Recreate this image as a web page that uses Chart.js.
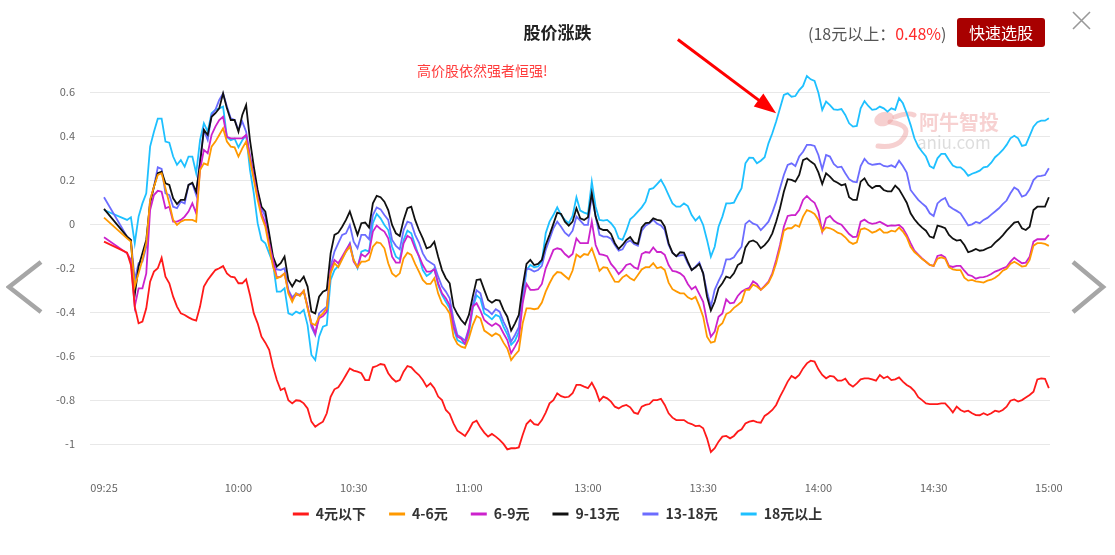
<!DOCTYPE html>
<html lang="zh">
<head>
<meta charset="utf-8">
<title>股价涨跌</title>
<script src="https://cdn.jsdelivr.net/npm/chart.js@4.4.1/dist/chart.umd.min.js"></script>
<style>
    html, body { margin: 0; padding: 0; background: #fff; }
    body { position: relative; width: 1115px; height: 555px; overflow: hidden;
           font-family: "Noto Sans CJK SC", "Noto Sans", sans-serif; }
    #stockChart { position: absolute; left: 0; top: 0; }
    .title { position: absolute; left: 0; top: 20px; width: 1115px; text-align: center;
             font-size: 17px; font-weight: bold; color: #222; line-height: 24px; }
    .summary { position: absolute; left: 808px; top: 21px; font-size: 16px; color: #555; line-height: 24px; }
    .summary em { font-style: normal; color: #ff2a2a; }
    .pick { position: absolute; left: 957px; top: 18px; width: 88px; height: 29px; border-radius: 3px;
            background: #a80000; color: #fff; font-size: 16px; line-height: 29px; text-align: center; }
    .close { position: absolute; left: 1072px; top: 11px; }
    .note { position: absolute; left: 417px; top: 60px; font-size: 14px; color: #ff3b3b; line-height: 20px; }
    .nav { position: absolute; top: 259px; }
</style>
</head>
<body>
<canvas id="stockChart" width="1115" height="555"></canvas>
<div class="title">股价涨跌</div>
<div class="summary">(18元以上：<em>0.48%</em>)</div>
<div class="pick">快速选股</div>
<svg class="close" width="20" height="20"><path d="M1 1 L18 18 M18 1 L1 18" stroke="#999" stroke-width="1.6" fill="none"/></svg>
<div class="note">高价股依然强者恒强!</div>
<svg class="nav" style="left:6px" width="40" height="56"><polyline points="35,3 3,28 35,53" fill="none" stroke="#a6a6a6" stroke-width="4.5"/></svg>
<svg class="nav" style="left:1068px" width="40" height="56"><polyline points="5,3 35,28 5,53" fill="none" stroke="#a6a6a6" stroke-width="4.5"/></svg>

<script>
const FONT = '"Noto Sans CJK SC", "Noto Sans", sans-serif';

// minutes after 09:25 (09:25, then 09:31 ... 11:30, 13:00 ... 15:00)
const minutes = [0];
for (let m = 6; m <= 246; m++) minutes.push(m);

const tickMinutes = [0, 35, 65, 95, 126, 156, 186, 216, 246];
const tickLabels = ["09:25", "10:00", "10:30", "11:00", "13:00", "13:30", "14:00", "14:30", "15:00"];
const yTicks = [0.6, 0.4, 0.2, 0, -0.2, -0.4, -0.6, -0.8, -1];

const names = ["4元以下", "4-6元", "6-9元", "9-13元", "13-18元", "18元以上"];
const colors = ["#ff1a1a", "#ff9900", "#cc22cc", "#111111", "#6c6cff", "#1ec0ff"];

const under4 = [-0.079,
    -0.129, -0.185, -0.374, -0.45, -0.442, -0.382, -0.261, -0.215, -0.2, -0.152,
    -0.238, -0.268, -0.329, -0.374, -0.405, -0.412, -0.423, -0.432, -0.438, -0.374,
    -0.283, -0.253, -0.23, -0.208, -0.2, -0.19, -0.223, -0.238, -0.241, -0.268,
    -0.268, -0.25, -0.321, -0.405, -0.45, -0.511, -0.538, -0.571, -0.647, -0.708,
    -0.753, -0.745, -0.8, -0.814, -0.8, -0.802, -0.814, -0.837, -0.897, -0.92,
    -0.908, -0.897, -0.859, -0.784, -0.75, -0.741, -0.715, -0.685, -0.655, -0.665,
    -0.67, -0.677, -0.708, -0.708, -0.65, -0.644, -0.635, -0.639, -0.677, -0.7,
    -0.715, -0.708, -0.67, -0.644, -0.65, -0.67, -0.685, -0.708, -0.738, -0.723,
    -0.745, -0.783, -0.799, -0.844, -0.862, -0.905, -0.938, -0.95, -0.962, -0.935,
    -0.902, -0.893, -0.923, -0.947, -0.965, -0.953, -0.965, -0.98, -0.998, -1.023,
    -1.018, -1.018, -1.014, -0.958, -0.908, -0.89, -0.908, -0.912, -0.89, -0.856,
    -0.814, -0.799, -0.768, -0.781, -0.787, -0.784, -0.768, -0.73, -0.73, -0.738,
    -0.745, -0.72, -0.753, -0.802, -0.783, -0.791, -0.806, -0.829, -0.837, -0.826,
    -0.821, -0.832, -0.856, -0.862, -0.829, -0.821, -0.817, -0.799, -0.799, -0.793,
    -0.821, -0.859, -0.879, -0.89, -0.89, -0.89, -0.902, -0.908, -0.917, -0.915,
    -0.927, -0.973, -1.035, -1.018, -0.988, -0.965, -0.962, -0.973, -0.962, -0.942,
    -0.932, -0.905, -0.897, -0.893, -0.899, -0.902, -0.871, -0.859, -0.844, -0.821,
    -0.783, -0.75, -0.715, -0.689, -0.7, -0.685, -0.655, -0.632, -0.62, -0.624,
    -0.659, -0.685, -0.7, -0.689, -0.692, -0.711, -0.711, -0.702, -0.726, -0.738,
    -0.723, -0.705, -0.7, -0.7, -0.705, -0.711, -0.685, -0.7, -0.692, -0.708,
    -0.705, -0.696, -0.715, -0.73, -0.741, -0.758, -0.786, -0.799, -0.814, -0.817,
    -0.817, -0.817, -0.814, -0.814, -0.833, -0.855, -0.829, -0.844, -0.852, -0.847,
    -0.859, -0.867, -0.868, -0.859, -0.867, -0.859, -0.847, -0.852, -0.844, -0.829,
    -0.802, -0.796, -0.806, -0.799, -0.787, -0.776, -0.761, -0.705, -0.7, -0.702,
    -0.745];

const from4to6 = [0.03,
    -0.064, -0.079, -0.283, -0.223, -0.162, -0.086, 0.111, 0.171, 0.224, 0.232,
    0.164, 0.095, 0.02, -0.003, 0.012, 0.02, 0.02, 0.02, 0.012, 0.247,
    0.277, 0.27, 0.353, 0.376, 0.406, 0.436, 0.376, 0.353, 0.35, 0.308,
    0.345, 0.376, 0.292, 0.202, 0.111, 0.035, -0.011, -0.102, -0.192, -0.245,
    -0.238, -0.223, -0.314, -0.352, -0.314, -0.326, -0.302, -0.382, -0.45, -0.458,
    -0.42, -0.405, -0.382, -0.223, -0.177, -0.195, -0.159, -0.124, -0.102, -0.162,
    -0.195, -0.17, -0.17, -0.162, -0.102, -0.082, -0.086, -0.109, -0.177, -0.223,
    -0.238, -0.223, -0.155, -0.129, -0.139, -0.18, -0.215, -0.253, -0.271, -0.271,
    -0.245, -0.314, -0.359, -0.377, -0.405, -0.511, -0.544, -0.556, -0.562, -0.518,
    -0.458, -0.417, -0.427, -0.483, -0.495, -0.508, -0.495, -0.505, -0.538, -0.564,
    -0.617, -0.594, -0.574, -0.45, -0.382, -0.382, -0.386, -0.382, -0.356, -0.306,
    -0.268, -0.235, -0.217, -0.22, -0.235, -0.25, -0.21, -0.137, -0.15, -0.135,
    -0.139, -0.109, -0.159, -0.212, -0.195, -0.198, -0.23, -0.261, -0.262, -0.241,
    -0.23, -0.245, -0.255, -0.23, -0.205, -0.195, -0.195, -0.177, -0.2, -0.194,
    -0.208, -0.265, -0.295, -0.305, -0.314, -0.314, -0.332, -0.341, -0.33, -0.371,
    -0.42, -0.511, -0.538, -0.533, -0.465, -0.45, -0.408, -0.399, -0.38, -0.367,
    -0.352, -0.298, -0.298, -0.274, -0.283, -0.298, -0.283, -0.265, -0.23, -0.177,
    -0.109, -0.029, -0.018, -0.018, -0.003, -0.011, 0.035, 0.065, 0.058, 0.047,
    0.02, -0.033, -0.014, -0.018, -0.026, -0.038, -0.044, -0.059, -0.079, -0.089,
    -0.082, -0.023, -0.018, -0.026, -0.038, -0.032, -0.021, -0.038, -0.038, -0.029,
    -0.033, -0.015, -0.033, -0.059, -0.102, -0.126, -0.141, -0.158, -0.17, -0.185,
    -0.189, -0.156, -0.15, -0.156, -0.195, -0.205, -0.208, -0.208, -0.243, -0.256,
    -0.253, -0.259, -0.262, -0.265, -0.256, -0.252, -0.243, -0.23, -0.211, -0.202,
    -0.18, -0.17, -0.18, -0.192, -0.189, -0.162, -0.097, -0.086, -0.086, -0.089,
    -0.098];

const from6to9 = [-0.059,
    -0.132, -0.162, -0.374, -0.291, -0.291, -0.223, 0.065, 0.133, 0.152, 0.148,
    0.073, 0.08, 0.012, 0.012, 0.02, 0.035, 0.058, 0.095, 0.05, 0.247,
    0.338, 0.323, 0.406, 0.444, 0.474, 0.489, 0.398, 0.391, 0.391, 0.391,
    0.391, 0.406, 0.308, 0.217, 0.126, 0.05, 0.005, -0.086, -0.162, -0.241,
    -0.238, -0.223, -0.306, -0.341, -0.321, -0.321, -0.302, -0.374, -0.45, -0.495,
    -0.427, -0.417, -0.397, -0.208, -0.162, -0.177, -0.147, -0.117, -0.089, -0.17,
    -0.195, -0.136, -0.147, -0.129, -0.033, -0.006, -0.021, -0.033, -0.064, -0.147,
    -0.174, -0.174, -0.086, -0.052, -0.064, -0.109, -0.144, -0.185, -0.215, -0.215,
    -0.205, -0.268, -0.314, -0.336, -0.367, -0.465, -0.511, -0.52, -0.544, -0.477,
    -0.374, -0.359, -0.392, -0.435, -0.45, -0.462, -0.45, -0.462, -0.495, -0.526,
    -0.586, -0.556, -0.523, -0.359, -0.271, -0.298, -0.298, -0.295, -0.271, -0.2,
    -0.159, -0.117, -0.109, -0.114, -0.135, -0.15, -0.135, -0.064, -0.086, -0.086,
    -0.086, 0.012, -0.094, -0.136, -0.139, -0.145, -0.18, -0.2, -0.226, -0.208,
    -0.185, -0.179, -0.195, -0.203, -0.135, -0.126, -0.129, -0.105, -0.126, -0.126,
    -0.139, -0.185, -0.212, -0.215, -0.223, -0.238, -0.271, -0.295, -0.283, -0.317,
    -0.352, -0.442, -0.511, -0.488, -0.42, -0.405, -0.341, -0.359, -0.356, -0.326,
    -0.306, -0.295, -0.289, -0.259, -0.271, -0.298, -0.28, -0.261, -0.223, -0.162,
    -0.094, -0.011, 0.038, 0.042, 0.042, 0.065, 0.111, 0.129, 0.111, 0.098,
    0.058, -0.033, 0.027, 0.038, 0.017, 0.005, -0.002, -0.023, -0.044, -0.058,
    -0.056, 0.012, 0.021, 0.008, 0.002, 0.005, 0.012, 0.002, -0.008, -0.005,
    -0.006, -0.003, -0.018, -0.048, -0.086, -0.12, -0.138, -0.155, -0.17, -0.185,
    -0.189, -0.144, -0.139, -0.15, -0.189, -0.194, -0.189, -0.189, -0.211, -0.23,
    -0.235, -0.247, -0.241, -0.24, -0.235, -0.226, -0.215, -0.208, -0.2, -0.193,
    -0.17, -0.152, -0.165, -0.177, -0.174, -0.147, -0.079, -0.068, -0.068, -0.068,
    -0.048];

const from9to13 = [0.07,
    -0.056, -0.071, -0.321, -0.192, -0.132, -0.071, 0.095, 0.171, 0.232, 0.239,
    0.186, 0.179, 0.118, 0.092, 0.111, 0.111, 0.179, 0.189, 0.148, 0.277,
    0.429, 0.406, 0.489, 0.505, 0.527, 0.595, 0.527, 0.474, 0.474, 0.421,
    0.497, 0.542, 0.383, 0.262, 0.156, 0.08, 0.058, -0.041, -0.147, -0.192,
    -0.177, -0.147, -0.253, -0.283, -0.253, -0.261, -0.238, -0.283, -0.397, -0.405,
    -0.329, -0.306, -0.298, -0.132, -0.048, -0.038, -0.011, 0.02, 0.058, 0.005,
    -0.048, 0.005, 0.008, -0.015, 0.095, 0.129, 0.123, 0.103, 0.065, -0.003,
    -0.041, -0.053, 0.02, 0.073, 0.08, 0.02, -0.026, -0.064, -0.109, -0.102,
    -0.079, -0.147, -0.208, -0.245, -0.268, -0.374, -0.408, -0.435, -0.455, -0.412,
    -0.329, -0.253, -0.25, -0.298, -0.344, -0.356, -0.344, -0.347, -0.389, -0.42,
    -0.483, -0.45, -0.412, -0.283, -0.18, -0.162, -0.185, -0.18, -0.162, -0.094,
    -0.048, 0.002, 0.053, 0.047, 0.012, -0.006, 0.012, 0.073, 0.027, 0.02,
    0.032, 0.141, 0.035, -0.018, -0.026, -0.026, -0.044, -0.086, -0.112, -0.094,
    -0.071, -0.058, -0.083, -0.089, -0.014, 0.005, 0.008, 0.027, 0.02, 0.017,
    -0.011, -0.086, -0.129, -0.145, -0.127, -0.129, -0.17, -0.208, -0.195, -0.18,
    -0.223, -0.329, -0.392, -0.352, -0.291, -0.268, -0.238, -0.244, -0.223, -0.185,
    -0.174, -0.105, -0.079, -0.073, -0.083, -0.109, -0.095, -0.074, -0.041, 0.012,
    0.073, 0.148, 0.205, 0.202, 0.194, 0.224, 0.292, 0.3, 0.285, 0.273,
    0.236, 0.183, 0.232, 0.217, 0.198, 0.189, 0.177, 0.183, 0.123, 0.111,
    0.111, 0.194, 0.209, 0.179, 0.164, 0.174, 0.174, 0.156, 0.15, 0.15,
    0.176, 0.159, 0.129, 0.098, 0.05, 0.023, 0.002, -0.015, -0.029, -0.056,
    -0.062, -0.006, -0.011, -0.018, -0.048, -0.065, -0.074, -0.071, -0.094, -0.127,
    -0.121, -0.112, -0.12, -0.117, -0.109, -0.102, -0.083, -0.068, -0.05, -0.029,
    -0.011, 0.008, 0.012, -0.018, -0.026, -0.011, 0.065, 0.08, 0.08, 0.08,
    0.123];

const from13to18 = [0.123,
    -0.056, -0.071, -0.253, -0.177, -0.17, -0.102, 0.111, 0.171, 0.259, 0.252,
    0.141, 0.133, 0.08, 0.073, 0.103, 0.095, 0.179, 0.186, 0.133, 0.292,
    0.429, 0.383, 0.497, 0.52, 0.565, 0.595, 0.535, 0.482, 0.474, 0.429,
    0.467, 0.421, 0.308, 0.232, 0.148, 0.073, 0.035, -0.056, -0.162, -0.205,
    -0.208, -0.2, -0.298, -0.332, -0.314, -0.321, -0.306, -0.374, -0.465, -0.503,
    -0.405, -0.389, -0.374, -0.192, -0.124, -0.086, -0.048, -0.041, -0.003, -0.079,
    -0.109, -0.048, -0.048, -0.068, 0.042, 0.077, 0.068, 0.042, 0.02, -0.071,
    -0.098, -0.114, -0.026, 0.012, 0.005, -0.048, -0.083, -0.132, -0.162, -0.174,
    -0.185, -0.238, -0.283, -0.306, -0.336, -0.435, -0.503, -0.514, -0.529, -0.473,
    -0.367, -0.3, -0.314, -0.382, -0.392, -0.408, -0.386, -0.397, -0.442, -0.477,
    -0.533, -0.503, -0.468, -0.314, -0.2, -0.205, -0.215, -0.208, -0.189, -0.117,
    -0.068, -0.018, 0.012, -0.011, -0.038, -0.053, -0.029, 0.035, 0.017, -0.003,
    -0.003, 0.133, 0.035, -0.048, -0.056, -0.056, -0.065, -0.094, -0.12, -0.114,
    -0.083, -0.073, -0.089, -0.097, -0.029, -0.006, 0.005, 0.02, 0.003, -0.005,
    -0.026, -0.094, -0.129, -0.145, -0.141, -0.139, -0.177, -0.208, -0.192, -0.173,
    -0.223, -0.306, -0.374, -0.298, -0.258, -0.223, -0.159, -0.159, -0.15, -0.124,
    -0.102, 0.002, 0.017, 0.003, -0.003, -0.026, -0.008, 0.012, 0.053, 0.103,
    0.164, 0.224, 0.27, 0.277, 0.265, 0.308, 0.33, 0.361, 0.361, 0.356,
    0.315, 0.25, 0.315, 0.308, 0.274, 0.259, 0.262, 0.232, 0.205, 0.194,
    0.191, 0.265, 0.298, 0.277, 0.27, 0.273, 0.276, 0.265, 0.262, 0.268,
    0.259, 0.289, 0.265, 0.235, 0.156, 0.133, 0.111, 0.095, 0.08, 0.05,
    0.038, 0.095, 0.111, 0.12, 0.083, 0.071, 0.061, 0.05, 0.023, -0.005,
    0, 0.011, 0.005, 0.02, 0.029, 0.044, 0.058, 0.073, 0.092, 0.108,
    0.141, 0.167, 0.156, 0.126, 0.133, 0.159, 0.201, 0.218, 0.22, 0.224,
    0.255];

const over18 = [0.065,
    0.02, 0.032, -0.086, 0.035, 0.095, 0.141, 0.353, 0.421, 0.48, 0.48,
    0.376, 0.371, 0.308, 0.27, 0.292, 0.262, 0.308, 0.308, 0.232, 0.383,
    0.459, 0.421, 0.505, 0.52, 0.527, 0.535, 0.397, 0.382, 0.389, 0.35,
    0.382, 0.405, 0.247, 0.141, 0.005, -0.071, -0.086, -0.132, -0.177, -0.306,
    -0.306, -0.291, -0.405, -0.412, -0.397, -0.405, -0.389, -0.458, -0.594, -0.617,
    -0.511, -0.465, -0.458, -0.253, -0.208, -0.189, -0.155, -0.124, -0.086, -0.162,
    -0.2, -0.124, -0.117, -0.124, 0.005, 0.047, 0.027, -0.003, -0.026, -0.102,
    -0.147, -0.159, -0.071, -0.029, -0.041, -0.094, -0.147, -0.208, -0.235, -0.223,
    -0.2, -0.276, -0.321, -0.352, -0.382, -0.473, -0.526, -0.536, -0.545, -0.497,
    -0.383, -0.323, -0.338, -0.405, -0.417, -0.432, -0.412, -0.42, -0.465, -0.5,
    -0.548, -0.529, -0.488, -0.344, -0.208, -0.185, -0.195, -0.192, -0.17, -0.041,
    0.012, 0.042, 0.077, 0.042, 0.02, 0.005, 0.038, 0.123, 0.062, 0.053,
    0.047, 0.194, 0.08, 0.02, 0.017, 0.02, 0.005, -0.018, -0.064, -0.071,
    -0.029, 0.023, 0.038, 0.058, 0.077, 0.103, 0.159, 0.164, 0.183, 0.202,
    0.171, 0.133, 0.095, 0.08, 0.08, 0.095, 0.083, 0.042, 0.017, 0.035,
    -0.003, -0.071, -0.147, -0.102, -0.011, 0.035, 0.095, 0.095, 0.098, 0.133,
    0.164, 0.277, 0.303, 0.302, 0.277, 0.289, 0.305, 0.368, 0.414, 0.467,
    0.527, 0.588, 0.595, 0.58, 0.583, 0.61, 0.629, 0.674, 0.659, 0.652,
    0.598, 0.52, 0.558, 0.542, 0.522, 0.52, 0.524, 0.497, 0.459, 0.444,
    0.447, 0.527, 0.56, 0.538, 0.52, 0.523, 0.535, 0.527, 0.512, 0.527,
    0.52, 0.573, 0.55, 0.505, 0.452, 0.391, 0.353, 0.33, 0.308, 0.265,
    0.255, 0.3, 0.32, 0.32, 0.292, 0.267, 0.259, 0.259, 0.244, 0.22,
    0.23, 0.236, 0.244, 0.259, 0.262, 0.28, 0.305, 0.32, 0.338, 0.361,
    0.391, 0.402, 0.391, 0.356, 0.361, 0.402, 0.444, 0.464, 0.471, 0.471,
    0.482];

const series = [under4, from4to6, from6to9, from9to13, from13to18, over18];

// annotation arrow, in chart units (minute, value)
const arrowFrom = [149.4, 0.84];
const arrowTo = [175, 0.505];

const decor = {
    id: "decor",
    afterLayout(chart) {
        // legend sits a little closer to the time axis than chart.js would put it
        const lg = chart.legend;
        const h = lg.bottom - lg.top;
        lg.top = 484;
        lg.bottom = 484 + h;
    },
    beforeDatasetsDraw(chart) {
        // faint aniu watermark
        const ctx = chart.ctx;
        ctx.save();
        ctx.strokeStyle = "rgba(236,150,150,0.45)";
        ctx.fillStyle = "rgba(236,150,150,0.45)";
        ctx.lineWidth = 5;
        ctx.lineCap = "round";
        ctx.beginPath();
        ctx.ellipse(884, 119, 10, 7, -0.3, 0, Math.PI * 2);
        ctx.fill();
        ctx.beginPath();
        ctx.moveTo(890, 122);
        ctx.quadraticCurveTo(916, 126, 900, 142);
        ctx.quadraticCurveTo(892, 148, 878, 146);
        ctx.stroke();
        ctx.beginPath();
        ctx.moveTo(895, 117);
        ctx.quadraticCurveTo(908, 112, 914, 115);
        ctx.stroke();
        ctx.font = "bold 20px " + FONT;
        ctx.fillStyle = "rgba(236,140,140,0.4)";
        ctx.textBaseline = "middle";
        ctx.fillText("阿牛智投", 919, 122);
        ctx.font = "17px " + FONT;
        ctx.fillStyle = "rgba(170,170,170,0.4)";
        ctx.fillText("aniu.com", 917, 143);
        ctx.restore();
    },
    afterDatasetsDraw(chart) {
        const { x, y } = chart.scales;
        const x0 = x.getPixelForValue(arrowFrom[0]), y0 = y.getPixelForValue(arrowFrom[1]);
        const x1 = x.getPixelForValue(arrowTo[0]), y1 = y.getPixelForValue(arrowTo[1]);
        const a = Math.atan2(y1 - y0, x1 - x0);
        const ctx = chart.ctx;
        ctx.save();
        ctx.strokeStyle = "#ff0000";
        ctx.fillStyle = "#ff0000";
        ctx.lineWidth = 3;
        ctx.beginPath();
        ctx.moveTo(x0, y0);
        ctx.lineTo(x1 - 16 * Math.cos(a), y1 - 16 * Math.sin(a));
        ctx.stroke();
        ctx.beginPath();
        ctx.moveTo(x1, y1);
        ctx.lineTo(x1 - 22 * Math.cos(a) + 8 * Math.sin(a), y1 - 22 * Math.sin(a) - 8 * Math.cos(a));
        ctx.lineTo(x1 - 22 * Math.cos(a) - 8 * Math.sin(a), y1 - 22 * Math.sin(a) + 8 * Math.cos(a));
        ctx.closePath();
        ctx.fill();
        ctx.restore();
    }
};

Chart.defaults.font.family = FONT;

new Chart(document.getElementById("stockChart"), {
    type: "line",
    data: {
        datasets: names.map((name, i) => ({
            label: name,
            data: minutes.map((m, j) => ({ x: m, y: series[i][j] })),
            borderColor: colors[i],
            backgroundColor: colors[i],
            borderWidth: 1.8,
            pointRadius: 0,
            tension: 0
        }))
    },
    options: {
        responsive: false,
        animation: false,
        devicePixelRatio: 1,
        layout: { padding: { top: 70.3, bottom: 12.7, left: 0, right: 0 } },
        plugins: {
            tooltip: { enabled: false },
            legend: {
                position: "bottom",
                labels: {
                    boxWidth: 16,
                    boxHeight: 3,
                    padding: 23,
                    color: "#333",
                    font: { size: 14, weight: "bold" },
                    generateLabels: chart => Chart.defaults.plugins.legend.labels.generateLabels(chart)
                        .map(item => Object.assign(item, { fillStyle: item.strokeStyle, lineWidth: 0 }))
                }
            }
        },
        scales: {
            x: {
                type: "linear",
                min: -3.65,
                max: 246.3,
                grid: { display: false, drawTicks: false },
                border: { display: false },
                afterBuildTicks: axis => { axis.ticks = tickMinutes.map(v => ({ value: v })); },
                afterFit: axis => { axis.height = 29; },
                ticks: {
                    autoSkip: false,
                    maxRotation: 0,
                    padding: 15,
                    color: "#666",
                    font: { size: 11 },
                    callback: v => tickLabels[tickMinutes.indexOf(v)]
                }
            },
            y: {
                min: -1.1,
                max: 0.7,
                grid: { color: "#e8e8e8", drawTicks: false },
                border: { display: false },
                afterBuildTicks: axis => { axis.ticks = yTicks.map(v => ({ value: v })); },
                afterFit: axis => { axis.width = 90; },
                ticks: {
                    padding: 15,
                    color: "#666",
                    font: { size: 11 },
                    callback: v => String(Number(v.toFixed(1)))
                }
            },
            y2: {
                position: "right",
                grid: { display: false, drawTicks: false },
                border: { display: false },
                ticks: { display: false },
                afterFit: axis => { axis.width = 65; }
            }
        }
    },
    plugins: [decor]
});
</script>
</body>
</html>
